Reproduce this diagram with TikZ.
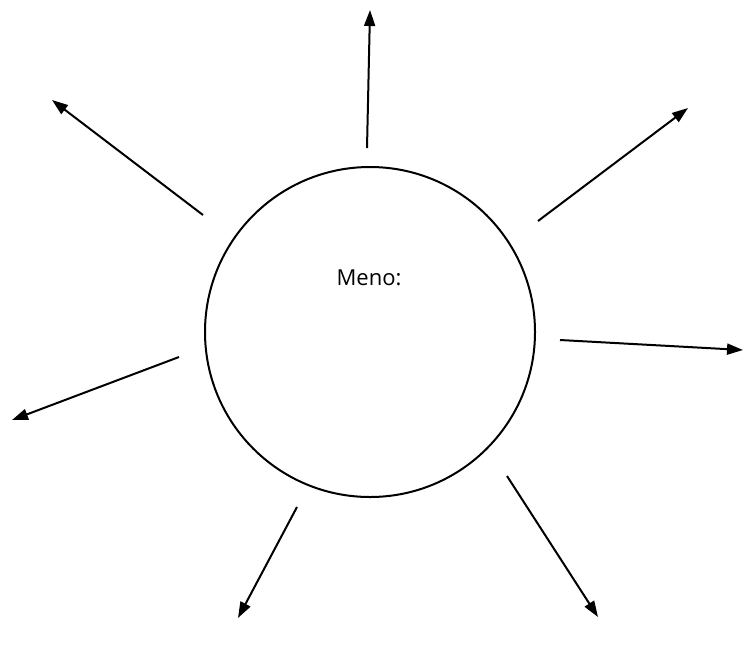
\documentclass[tikz,border=0pt]{standalone}
\usepackage{fontspec}
\setmainfont{Open Sans}
\usetikzlibrary{arrows.meta}
\begin{document}
\begin{tikzpicture}[x=1pt,y=-1pt,
  ray/.style={line width=2pt,-{Triangle[length=16pt,width=11pt]}},
  ring/.style={circle,draw,line width=2pt,minimum size=330pt,inner sep=0pt}]
\useasboundingbox (0,0) rectangle (743,646);
\node[ring] (c) at (370,332) {};
\node[font=\fontsize{22}{26}\selectfont] (t) at (369,278) {Meno:};
\coordinate (s1) at (367,148); \coordinate (e1) at (370,10);
\coordinate (s2) at (203,215); \coordinate (e2) at (52,100);
\coordinate (s3) at (538,221); \coordinate (e3) at (688,108);
\coordinate (s4) at (560,340); \coordinate (e4) at (743,350);
\coordinate (s5) at (179,357); \coordinate (e5) at (12,420);
\coordinate (s6) at (297,507); \coordinate (e6) at (238,618);
\coordinate (s7) at (507,476); \coordinate (e7) at (598,617);
\foreach \i in {1,...,7} \draw[ray] (s\i) -- (e\i);
\end{tikzpicture}
\end{document}
